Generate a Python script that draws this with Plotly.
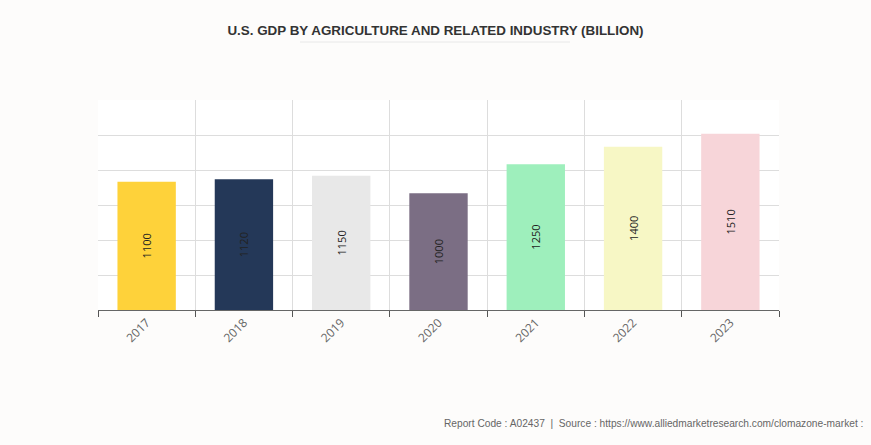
import plotly.graph_objects as go

years = ["2017", "2018", "2019", "2020", "2021", "2022", "2023"]
values = [1100, 1120, 1150, 1000, 1250, 1400, 1510]
colors = ["#fed23a", "#243858", "#e8e8e8", "#7b6e84", "#9eefbc", "#f7f7c5", "#f7d5d9"]

fig = go.Figure(
    go.Bar(
        x=years,
        y=values,
        marker=dict(color=colors, line=dict(width=0)),
        text=[str(v) for v in values],
        textposition="inside",
        insidetextanchor="middle",
        textangle=-90,
        textfont=dict(family="Open Sans, sans-serif", size=11, color="#222222"),
        width=0.6,
        hoverinfo="skip",
    )
)

fig.update_layout(
    width=871,
    height=445,
    margin=dict(l=98, r=92, t=100, b=135),
    paper_bgcolor="#fdfcfb",
    plot_bgcolor="#ffffff",
    showlegend=False,
    title=dict(
        text="<b>U.S. GDP BY AGRICULTURE AND RELATED INDUSTRY (BILLION)</b>",
        x=0.5, xanchor="center", y=0.933, yanchor="middle",
        font=dict(family="Liberation Sans, Arial, sans-serif", size=13.4, color="#333333"),
    ),
    xaxis=dict(
        type="category",
        tickson="boundaries",
        showgrid=True,
        gridcolor="#dddddd",
        gridwidth=1,
        ticks="outside",
        ticklen=6,
        tickcolor="#555555",
        showline=True,
        linecolor="#666666",
        linewidth=1,
        tickangle=-45,
        tickfont=dict(family="Open Sans, sans-serif", size=12, color="#666666"),
        fixedrange=True,
    ),
    yaxis=dict(
        range=[0, 1800],
        dtick=300,
        showgrid=True,
        gridcolor="#dddddd",
        gridwidth=1,
        showticklabels=False,
        zeroline=False,
        fixedrange=True,
    ),
    shapes=[
        dict(type="line", xref="paper", yref="paper", x0=202/681, x1=472/681,
             y0=1 + 58/210, y1=1 + 58/210, line=dict(color="#e8e8e8", width=1)),
    ],
    annotations=[
        dict(
            text="Report Code : A02437  |  Source : https://www.alliedmarketresearch.com/clomazone-market :",
            xref="paper", yref="paper", x=(865 - 98) / 681, y=-(424 - 310) / 210,
            xanchor="right", yanchor="middle", showarrow=False,
            font=dict(family="Liberation Sans, Arial, sans-serif", size=10.2, color="#666666"),
        )
    ],
)

fig.write_html(
    "out.html",
    config={"displayModeBar": False, "staticPlot": True},
    post_script="document.body.style.margin='0';document.body.style.background='#fdfcfb';",
)
